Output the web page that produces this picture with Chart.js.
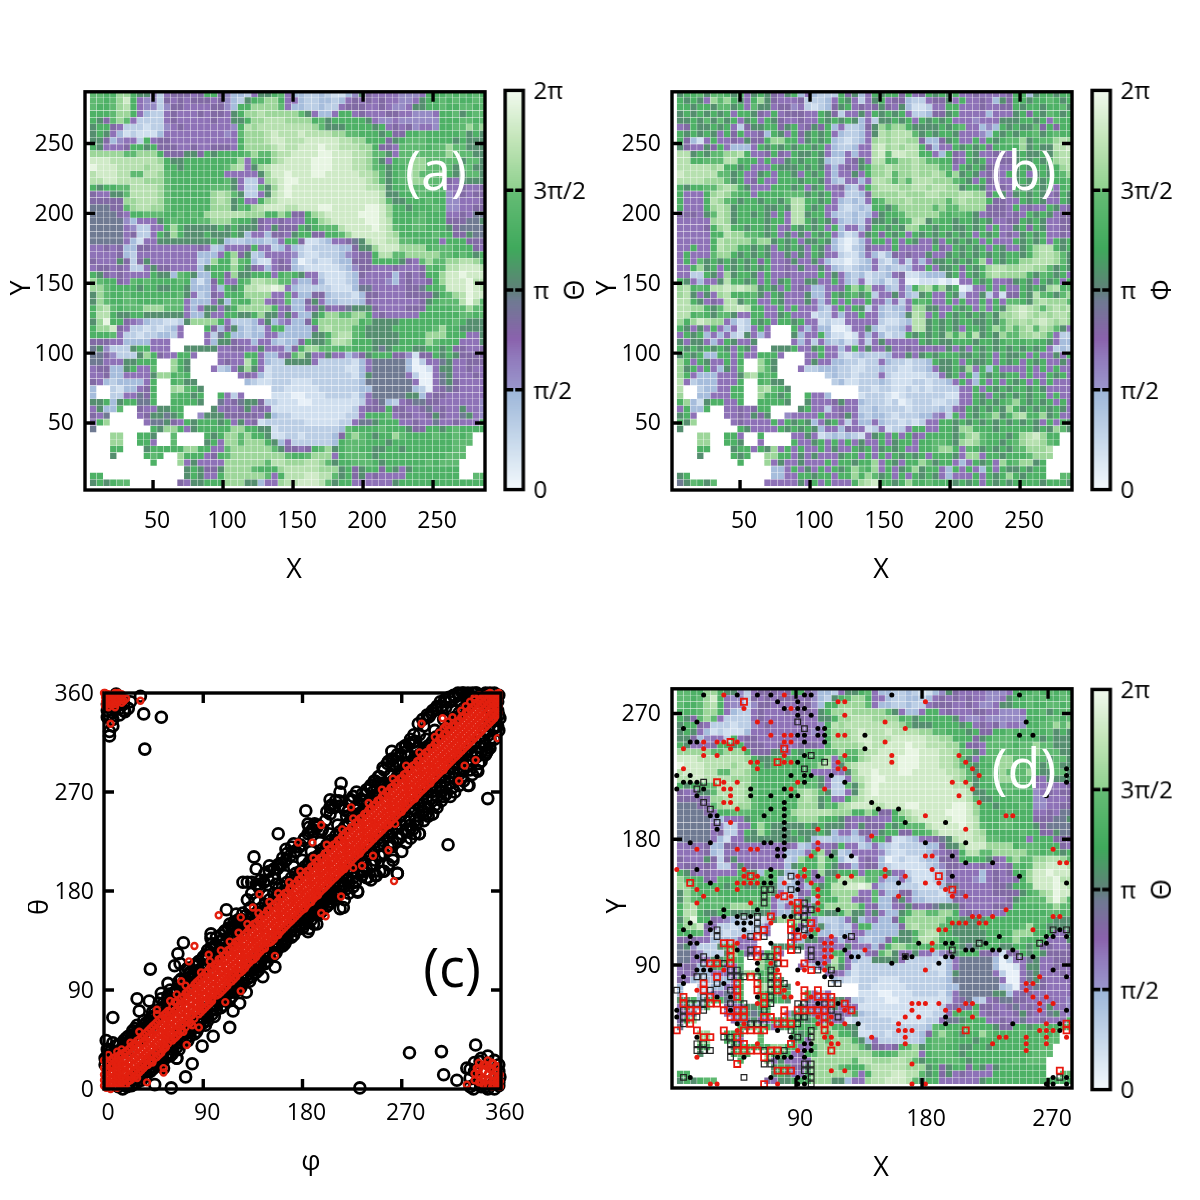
<!DOCTYPE html>
<html><head><meta charset="utf-8">
<style>html,body{margin:0;background:#fff;width:1200px;height:1200px;overflow:hidden}canvas{position:absolute}</style>
<script src="https://cdn.jsdelivr.net/npm/chart.js@4"></script>
</head><body>
<script>
// Phase maps, one character per lattice cell: 0..f is a phase level, "." an empty cell.
const thetaRows = [
"bbaacca884 2566656aa6 4332588ab5 3322321134 8655554445 aaabababa",
"bbabcea544 2656566656 4328abcca5 5322332356 5656554458 aababaabb",
"baabcda544 2466555566 43aaccccb5 3322322566 6556544588 aabaabbab",
"aaabcca532 2565556566 58accdcccc cb85335aa5 6555665544 45aab8abb",
"a86bcb5222 2565555565 588accdddc cccab8aaaa a854454444 44aaabbab",
"8aa6522212 2456555555 54adcddddd dddcb888aa aa8a56564 5 54aabbcbc",
"8a85312111 3555555555 45bcccdedd deddddccbb aaa8a66aab aaaaab8a8",
"88634552a5 6655555555 55acccdeed ddeeeeeddc caaa68abbb aaaa8a888",
"a85556aa8a 6665565566 65accccded deeefeeddd cca6 65bbbb abbcbb888",
"cccccbbccc a666886a8a aaabcbbcdd eeeeffeeed dcbb85bbbb bbbcbbb88",
"eeeddddddd ca88aaaaaa aac5baacde eeefffeeed dcb85abbcc bbbbb8bb8",
"feeeddddcd daa8aaaaaa bcd58cdeee eeefffeeed dcba8aabcc bbbb8bb88",
"deeeddbbdd cbaaaaaaaa 555558ceef eeeffeeeee ddcb8abbcb bbca88bb8",
"ddeeddddcc cbaaaaaaaa b85225cdef feeeeeeeee edcb8abbcc bbb658888",
"a8aabbdddd cbaaaaaabb b8522b8cef eeeeeeeeee eddc8aabbb baa556556",
"65588bdddd cbaaaaaacd cb82258def eeeeeeeeee eeed88aaab aaa456566",
"66666ccddd cbaaaaaacd c8a55acdee eeeeeeeeee eeedb88aaa baa445556",
"77766bcddc cbaaaaaacc c8bacdeeed deeeffeeee effeca a8aa aba445566",
"777765aabb baababacdd dddcccaacb 66acdeeeee fffecaaaab aaa556577",
"7777743555 8abaaabbcc cbaa865565 55aacdeeee effedaaabb aaa666778",
"7777754225 5aca88888a 8a88865866 6a8abbbdee eefedbaabb aaa867777",
"7777756225 a8ca888a88 8a83553665 8aa66aabce eeeedcaaaa abaa66877",
"7777753155 88888888a8 322333235a a611235567 8deeddbbaa aa5aaa666",
"5565633665 5555556523 5556a55235 3212222336 88ceeecccc abbbaaa65",
"5555632555 5555553335 ac68235555 4211222345 66addbbccc ccbbaba8a",
"6555862685 5555552 3ca adb a3115 65 3012112336 66aaaa865b cbbccddcb",
"5665652258 6655553 8aa ac a86535 66 3211111234 6655565556 babddeeed",
"a865655 55a 883ba83 3aa 6c88aaa5ab a855211123 6555535656 aaceefeee",
"cbaa65bab a aaaba313 6a 55abddccbb 4335311123 5555435655 6aceeefdd",
"ccbaaaa8aa 88aa83335 3 a8addeefe5 3222221113 7755555667 aabeeefed",
"8cbaabaaaa aaab85236 5 aaacccc55b 5336632221 3665555666 68abcdfee",
"8cbaabbaaa abbb533358 3baacc565b 3368533222 3655555556 8abbbdfdb",
"acdbabbbcc cbbb535885 8accccca56 3356865678 8865555666 aaaabbcbb",
"addA88aa88 8888533855 aa88ac8858 533 8accbbc ca56555 55a aaaaabbab",
"8cfaa65432 2112 8ccccA 5222358345 336accccc c ab8888aaaa aaaabA888",
"acce652212 1235...a63 6832325aa3 3336cdcccb a8888aaaaa abcaa8888",
"aaab522122 3325...527 a332335533 3338 8acddb a88888aaaa cccaaa558",
"6665533335 55.....538 8655355323 36a88bddca aa8888aaaa cbaaa5558",
"7842228aa5 55..888885 5665585553 6accbbbaba aa878aaa88 aa8a66556",
"7764222 8ca 655aa5...5 555aa53356 bc8 5585534 68aaa66416 6a8a86666",
"7755588aaa ..ca8....5 655da53228 8885222221 3577777302 55785 5666",
"56633 8a55b ..ca8...52 358c851222 2222222211 3577777300 15885 5655",
"5563355558 ccaba..... ..56531222 2222222221 3877777520 05785 5565",
"653233335a ..ab88.... ...3211222 1112222222 3777777750 05786 5555",
"3..21 3356a ..cdba8... .......221 1111222222 3377777732 05676 5555",
"3..22557 6a ..baa8a..a 525....111 0011122221 3577777883 56655 5555",
"88a38aa77a ..aaaa8..7 5678862211 1001111111 2567325677 66555 5554",
"58 33b..655 88aa....85 6568565111 1111111112 5666a66556 75655 8554",
"657....568 878a..4888 6666658322 1111111122 5aaab56655 68655 7854",
"6ac.....57 7865a8aaa8 a585612222 2211111225 778aaa5565 57556 555a",
"7........a 8cca58aaaa accaa88122 2222222 3ba aaabaaa866 aa8ab aaaa",
"...cc..aa8 ..b....a8a ccbcaa8112 2122223 6bc ba8aacbaaa abaabab..",
"...cc..aa5 ..b....8a5 ccbccca835 2222223abb baaa8aaaaa aaaabbb..",
"...aa...8a aaaaccaa55 bccccccb86 656ab c8abb aa88aa8aaa aaaabb...",
"...8....ab a..caaa56a bccccccccb aabccc5abb ba8aaaaaaa aaabbb...",
".........a ...c585555 ccccccbddc ccddcb8aab bba8aaaaaa babbb....",
".......... ....8a8668 ccccbaaacd ddddccc8a6 8aa6a858aa aaaaa....",
"aa........ ....8a855a ccccccb5ad ddeeddb8a6 856555 5aaa aaaaa..bb",
"8a8abb.... ...6588aaa ccc8835 5cd deeedb8aa5 55555 8aaaa aaaaaaaaa"
];
const phiRows = [
"8aab8bba8a 58a8658a35 3222a6835a 8aa6a56a8a 8a55655556 aa38aa8aa",
"a8a85cbca8 5ac8655562 2235a85258 a566322566 85a5565386 aa8aaba8a",
"aa8aa8bb8a 5b88566452 12368a5656 8658311255 aa55565566 a8aa8aab8",
"8a8a8a8a5a a865a56665 5a8625585a 8a8a522366 8a55553555 8a6a8ba8a",
"88a8b8b8a5 8a5a865565 5a8a8a8352 88a8a5a8a8 a555455588 8aa8a5baa",
"56a88a8a52 688aa68a56 86a3522368 cbcca8888a 8ab55343a8 a88b6a6aa",
"a8a8a85a6a 5563a85a68 a8a5322358 dcdddb8a8a a855543a8a 8aab8abaa",
"a6315a5565 866accaa58 a8a321235c dcddcc6336 8a55a5a8ab bc8abbcdc",
"865586a533 35a8a8a8aa 8a5322355d ecdcdda635 5a8a8a6aaa ac8a88dde",
"dd8a8bbccd a556a65a88 a85335355d ebeeddaa53 a65a855665 8a88a8cdd",
"ddaabbbdda aa5a558a8a a83225685d dabccdcbba a65a8a5566 8a8a8acdd",
"dddddcdaa8 a555a888a8 a8535658ac cdcccdcccb b5a8a86655 8a8aa8acd",
"edddddbb8a 558a5aa85a 8a535585ac cdbccdccdc ac8a85665a 8a58a8abc",
"ddddcccb8a 56a55aaa8a a85325535d dcbcbdddcc cba85a6655 8a8b8aaab",
"a8aabbcdca 8555aaa8a5 8a556325ac dddccddcdd cc8aa85565 a88a8a5ab",
"a555acdcba a5aaaabbb8 a8a552236c cccdcccddc ccddcc6a85 8a8a856a8",
"a555adcba8 aa8aa8bdda a8a532325a bcccdccccc bcdccca665 5a8a855a8",
"a555acdc8a aaa88a8dda 8a5521232a a8bcccccbc bbcccc6665 a5655a856",
"66658bdc8a a8a85a5dd8 aa53223235 8aabcccccb abba856665 65a8a8566",
"55555cdc8a aaa8aa5dda 8a85323258 8a8abdd8ba a8aa8a8556 6a8a85566",
"55556acdaa 8aa8a56a8a 8a5a35536a a8a8ccaa8a a88a8a5a55 8a6a85566",
"55555aadcc bba8a58585 a8a531258a 6a8a5a8a8a 8a8a5a8a56 58a8a5565",
"55555adccc cbcc8a8a58 8a8310135a a5a5a85585 a8a8a5a555 a8a8a5a8a",
"55a55adcca a8a85a8a85 a853102365 55a55555a6 5a8a8a5a85 58acdda8a",
"5a555bcca8 a8a8558585 a855211353 1365655855 8a8a8a8a8a a8acddcb8",
"5a5b8a8a8a 8a6a556855 8531101235 2135253588 a8a8ac5a8a accdddcb8",
"55ac8a5a8a 8a8a556585 5853212335 2322355a58 8a6a8acddc cddccb8a8",
"5522a85c8a a85a556555 5a58532312 2356112333 8a5a8acdcc cca8ba8a5",
"a853558daa 8a5a58a558 855a532512 3125001110 1055a8a556 8a85a8a5a",
"cdabaddede dc8a85a565 33556acac5 53253acdac 8a0155a5a5 5a8a8cdab",
"cd8585cdaa ab85a85558 335a8ab8a2 5585328a55 a825582516 6a8dba8bc",
"dda8565dd8 ba55a85558 535a5a55a5 53525aba55 a5a55a5a5b ba8cdcccb",
"ddcca8bdde daa55a5a55 5325a5a825 32335cc885 5a8a5b5a8c dedcbcdcd",
"ddaba8bb85 5aa558a555 1225355a55 32238dc5a5 a8a8a8b8cc dedcdcddc",
"cacedcc531 2a8a5aa8a5 5121155555 21123dd8a8 a8aa88a8bc cdcdedcdc",
"a8585a5351 25a5...a53 5330015583 12235dd8a8 a85aa8acbc bcdbdcb85",
"5a8a353521 8535...835 5a31101535 3122a8a8a8 cacad8a8cb bccdcb522",
"8588535a85 58.....535 2532312525 855555a8a8 8aaa8aa8ab aabaa8533",
"a8a8a8a85a 85..888a55 8a5535a585 5855656565 8585a8a8a8 a8a8a5232",
"8a8a33aa5a 55aaa5...5 5a55212322 2355858a8a aa88a8a5a8 8a5a5585a",
"ca5a855a5a ..ca8....5 8553322122 53221223a8 8a5a88a5a8 a5a8a5585",
"c8a5a5385b ..cb8...52 2333221122 3221122358 8a8c5a3a55 55a5a5a55",
"ca53335558 cdaba..... ..23221222 5211111225 8a5a3a8a8a a5a55a8a5",
"d52333555a ..ab88.... ...2311222 3211122122 35a53a5a5a 8a5a5a555",
"d..23355aa ..cdba8... .......221 2211212122 2255a5a8a8 aa8a85555",
"c..33555aa ..caa8a..a 553....122 2101222222 1155a85a8a 8a8aa5a55",
"ac318aa55a ..aaaa8..8 5556855322 2120122211 2255a8a8ab ca8a8a5a5",
"5a33a..556 56aa....8a 5525655223 2222122223 256a8a8a8c a8a8a8a85",
"8a5....556 5868..4555 5a55685323 3212223345 2a5a8abc8a cdaac8a55",
"a8c.....56 5555a5a8a8 358a525335 322121255a a8a8a8a8a8 a8a85a5a8",
"8........a 85555a8a8a 8355365512 51225aa55a a8ccaaa8aa aaa8a8cb8",
"...cc..aa5 ..a....558 5123232158 a5a5a65aaa a8bcdbaaa8 acdecaa..",
"...cc..aa8 ..5....a55 8a5a5a5855 a58aa5aabb a8cdcbaa8a bcddcba..",
"...aa...8a a5a8c5a5a5 5a5855a8a5 8a8a55aabc ca5ba8a8a8 bbcccd...",
"...8....a8 a..ccaa585 85558aa5a5 a5a8a8a5aa a85cc5aa8a aabccc...",
".........a ...c585585 55a5aa8aac 5a85aacb8a a535a8a5ca bcc8a....",
".......... ....335a58 5a5a8acbac 5a58ac8aa5 3a5a53a5a8 8a8aa....",
"8a........ ....3355aa 8aa5aacacb 8a5a5a8a85 3555a5a8ac a8aaa..bb",
"78ba8b.... ...5555585 a5a555acde aa8acaabaa a8a8a5a8a8 aaaa8aaa8"
];

// Panel (c): rows are [phi, theta, theta, ...], strays are phi,theta pairs.
const ringsBlackRows = [
[3,30,36],[8,28,42],[14,35,40],[18,38,44],[22,43,48],[26,4,48,53],[30,6,52,58],[34,8,55],[38,12,60],[42,16,64],[46,20,24,70],[50,22,72,78],[54,26,78],[58,30,82,85],[62,32,36,86],[66,28,38,90],[70,42,46,94,100],[74,46,50,96,108],[78,48,52,102,106],[82,50,56,106,112],[86,56,60,108,116],[90,60,64,113,120],[94,62,66,118,126],[98,68,72,122,132],[102,72,76,124,138],[106,74,80,128,140],[110,80,86,132,144],[114,82,88,136,150],[118,88,92,140,152],[122,90,96,144,154],[126,96,100,148,160],[130,100,104,152,172,188],[134,102,108,156,178],[138,106,112,160,186],[142,112,116,164,190],[146,114,120,168,196],[150,120,124,172,198],[154,122,128,178,200],[158,128,132,182,204],[162,130,136,184,210],[166,136,140,188,214],[170,138,144,192,220],[174,144,148,196,216],[178,148,150,198,222],[182,150,154,202,228],[186,146,156,206,238],[190,150,160,210,234],[194,158,164,212,240],[198,162,168,218,236],[202,166,172,222,252],[206,170,174,226,258],[210,172,178,230,262],[214,164,180,234,270],[218,172,184,238,254],[222,178,188,242,262],[226,184,192,248,266],[230,180,196,250,258],[234,194,198,252,268],[238,192,200,258,272],[242,190,204,260,276],[246,194,208,264,280],[250,198,212,268,284],[254,198,214,272,290],[258,204,220,276,298],[262,208,224,280,300],[266,196,228,284,304],[270,216,232,288,310],[274,224,236,292,312],[278,228,240,296,318],[282,232,244,300,316],[286,232,248,304,322],[290,244,252,308,330],[294,248,256,312,338],[298,250,262,316,344],[302,256,266,320,348],[306,262,270,324,348],[310,268,274,328,352],[314,266,278,332,352],[318,270,282,338,356],[322,276,286,342,358],[326,280,290,346,360],[330,276,294,350,360],[334,286,298,352,360],[338,290,302,356,360],[342,298,306,358],[346,304,312,360],[350,310,318,360],[354,318,328,360],[358,326,340,358],
[1,22,28],[5,24,31],[9,26,33],[13,2,30,34],[17,0,33,37],[21,2,4,36,41],[25,3,8,41,46],[29,9,12,44,50],[33,12,15,46,54],[37,15,18,52,58],[41,19,22,56,60],[45,24,27,59,66],[49,27,31,64,69],[53,30,33,68,74],[57,32,37,70,78],[61,39,42,76,80],[65,41,45,80,88],[69,45,50,84,92],[73,50,53,88,98],[77,53,57,93,104],[81,58,61,97,100],[85,60,64,101,112],[89,64,69,104,118],[93,68,73,109,120],[97,72,77,114,127],[101,76,80,118,130],[105,80,84,122,134],[109,84,88,126,143],[113,87,92,130,146],[117,91,97,134,148],[121,96,101,138,150],[125,100,104,142,154],[129,104,109,148,158],[133,108,113,150,165],[137,113,117,154,172],[141,117,121,158,182],[145,120,125,162,188],[149,124,129,166,190],[153,128,132,170,192],[157,132,137,174,200],[161,136,141,178,204],[165,140,144,184,208],[169,144,149,186,212],[173,148,152,190,216],[177,150,156,194,220],[181,154,160,198,226],[185,158,164,204,232],[189,162,168,206,236],[193,166,172,210,238],[197,170,176,214,234],[201,174,180,218,244],[205,178,184,222,250],[209,180,188,226,256],[213,184,192,230,262],[217,186,196,234,256],[221,190,200,240,252],[225,198,204,244,262],[229,202,208,246,270],[233,206,212,250,262],[237,210,216,254,268],[241,214,220,258,274],[245,218,224,262,280],[249,222,228,266,284],[253,226,232,272,292],[257,230,236,274,296],[261,234,240,278,300],[265,238,244,282,298],[269,240,248,286,304],[273,244,252,290,312],[277,246,256,294,314],[281,254,260,298,322],[285,258,264,302,332],[289,262,268,306,336],[293,266,272,310,340],[297,270,276,314,342],[301,274,280,320,346],[305,276,284,322,352],[309,280,288,326,354],[313,284,292,330,356],[317,288,296,334,358],[321,292,300,338,360],[325,296,304,342,360],[329,298,308,346,358],[333,304,312,350,356],[337,306,316,352,360],[341,310,320,354,358],[345,314,326,358,352],[349,322,330,346,356],[353,328,336,350],[357,330,344,352],
[6,34],[12,40],[20,46],[28,55],[36,62],[44,18,70],[52,24,82],[60,30,90],[68,36,98],[76,44,110],[84,52,114],[92,58,122],[100,66,130],[108,76,136],[116,84,146],[124,92,152],[132,98,164],[140,108,170],[148,116,176],[156,124,186],[164,134,194],[172,140,202],[180,146,208],[188,154,216],[196,160,224],[204,168,232],[212,176,240],[220,182,248],[228,188,256],[236,198,262],[244,204,270],[252,212,278],[260,220,286],[268,228,294],[276,234,302],[284,242,310],[292,250,318],[300,258,326],[308,266,336],[316,274,344],[324,282,352],[332,290,358],[340,296],[348,308],
[3,338,344,350],[8,336,342,348],[14,340,346,352],[18,344,350],[24,352],[332,2,10,18],[336,4,16,24],[342,28,2],[348,30,0],[354,26,0],[358,22,16,6],[346,16]
];
const ringsBlackStray = [36,341,52,338,37,309,5,321,5,325,8,330,4,340,11,359,33,357,19,343,22,346,7,355,277,33,306,34,337,40,308,13,320,8,329,19,341,25,232,1,61,1,46,4,74,11,335,0,359,11,353,5,358,3,346,2,8,65,2,44,30,82,41,80,32,71,42,109,72,133,67,123,69,114,64,112,58,96,52,87,111,163,120,159,97,141,97,137,158,232,136,211,138,200,126,188,134,188,141,186,150,203,160,205,165,218,172,223,183,253,185,241,191,241,205,263,205,256,215,278,224,263,213,257,261,307,280,315,273,306,302,345,295,339,310,347,327,357,331,355,262,294,249,278,114,56,99,48,89,39,80,23,66,28,54,19,123,78,117,71,129,88,144,102,155,111,164,132,185,143,193,150,217,165,230,179,220,192,247,194,266,196,262,211,253,198,239,192,286,232,280,236,298,250,289,253,310,268,312,222,348,264,331,276,339,289,347,306,350,316,359,337];
const ringsRedRows = [
[2,1,6,11,17,23],[6,0,4,9,14,20,26],[10,2,7,12,18,24,29],[14,3,8,13,19,25,31],[18,3,9,14,20,26,33],[22,7,12,18,24,30,36],[26,10,15,21,27,33,40],[30,13,18,24,30,37,44],[34,17,22,28,34,41,47],[38,21,27,32,38,44,51],[42,25,30,36,42,48,55],[46,28,34,40,46,53,59],[50,31,37,44,50,56,63],[54,36,42,48,54,60,67],[58,41,47,52,58,65,71],[62,44,50,56,62,68,75],[66,48,54,60,66,73,79],[70,53,58,64,70,76,83],[74,56,62,68,75,81,87],[78,60,66,72,79,85,91],[82,64,70,76,82,88,95],[86,68,74,80,86,93,99],[90,73,79,84,91,97,103],[94,76,82,88,94,100,107],[98,80,86,92,98,105,110],[102,85,90,96,103,108,114],[106,88,94,100,106,112,119],[110,92,98,104,111,117,122],[114,97,103,108,114,120,127],[118,100,106,112,118,125,131],[122,105,110,116,122,128,135],[126,108,114,120,127,133,139],[130,113,119,124,130,136,143],[134,117,123,128,134,141,147],[138,120,126,132,139,145,151],[142,125,131,136,142,148,155],[146,129,135,140,147,153,159],[150,133,139,145,151,157,163],[154,136,142,148,155,161,167],[158,141,147,152,158,164,171],[162,145,151,157,163,169,175],[166,149,155,160,167,173,179],[170,153,159,164,170,176,183],[174,157,162,168,175,181,187],[178,161,167,172,178,185,191],[182,165,171,176,183,189,195],[186,169,175,180,186,192,199],[190,173,178,184,191,197,203],[194,177,183,188,194,200,207],[198,181,187,192,199,205,211],[202,185,191,196,202,208,215],[206,189,195,200,207,213,219],[210,193,199,204,210,217,223],[214,197,202,208,215,221,227],[218,201,207,212,218,224,231],[222,205,211,217,223,229,235],[226,209,215,220,226,233,239],[230,213,218,224,231,237,243],[234,217,223,228,234,240,247],[238,221,227,232,239,245,251],[242,225,231,236,242,249,255],[246,229,235,240,247,253,259],[250,233,239,245,251,257,263],[254,237,243,248,255,261,267],[258,241,247,252,258,264,271],[262,245,251,257,263,269,275],[266,249,255,260,267,273,279],[270,253,258,264,271,277,283],[274,257,263,268,274,280,287],[278,261,267,273,279,285,291],[282,265,270,276,283,289,295],[286,269,275,280,286,292,299],[290,273,279,284,291,297,303],[294,277,283,288,294,301,307],[298,281,287,292,299,305,311],[302,285,291,297,303,309,315],[306,289,295,300,307,313,319],[310,293,299,304,311,317,323],[314,297,303,308,315,321,327],[318,301,306,312,319,325,331],[322,305,311,316,323,329,335],[326,309,315,321,327,333,339],[330,313,319,325,331,337,343],[334,317,323,329,335,341,347],[338,321,327,333,339,345,351],[342,325,331,337,343,349,355],[346,329,335,341,347,353,358],[350,333,339,345,351,356,360],[354,337,343,349,354,358],[358,342,348,353,357,360],
[0,3,8,13,19,26],[4,2,7,12,18,24,31],[8,5,10,15,21,28],[12,1,6,11,16,22,28,34],[16,6,11,17,23,30,36],[20,4,9,15,21,27,34],[24,8,13,19,25,31,38,42],[28,11,16,22,28,35,41],[32,15,20,26,32,38,45,52],[36,19,24,30,36,42,49],[40,22,28,34,40,47,53],[44,26,31,37,44,50,57],[48,29,35,42,48,54,61,68],[52,33,39,45,51,58,64],[56,38,44,50,56,62,69],[60,45,51,57,63,70],[64,47,53,59,65,71,79],[68,50,56,62,69,76],[72,52,59,65,71,78,84],[76,63,69,75,82,89],[80,58,67,73,79,85,92],[84,71,77,83,90,97],[88,70,76,82,89,95,101],[92,74,79,85,92,98,106],[96,78,84,90,96,102,110],[100,87,93,99,106,112],[104,86,92,98,104,111,118],[108,90,96,102,108,115,121],[112,99,105,112,118,126],[116,98,104,110,116,122,129],[120,102,108,114,120,127,134],[124,110,116,123,129,136],[128,110,117,122,128,134,141],[132,115,121,126,132,139,146],[136,118,124,130,137,143,150],[140,123,129,134,140,146,153],[144,127,133,138,145,151,158],[148,135,141,149,155,162],[152,134,140,146,153,159,166],[156,139,145,150,156,162,169],[160,143,149,155,161,167,174],[164,147,153,158,165,171,178],[168,151,157,162,168,174,182],[172,155,160,166,173,179,186],[176,159,165,170,176,183,190],[180,163,169,174,181,187,194],[184,167,173,178,184,190,198],[188,170,176,182,189,195,202],[192,175,181,186,192,198,206],[196,179,185,190,197,203,210],[200,183,189,194,200,206,214],[204,187,193,198,205,211,218],[208,191,197,202,208,215,222],[212,195,200,206,213,219,226],[216,199,205,210,216,222,230],[220,203,209,215,221,227,234],[224,207,213,218,224,231,238],[228,211,216,222,229,235,242],[232,215,221,226,232,238,246],[236,219,225,230,237,243,250],[240,223,229,234,240,247,254],[244,227,233,238,245,251,258],[248,231,237,243,249,255,262],[252,235,241,246,253,259,266],[256,239,245,250,256,262,270],[260,243,249,255,261,267,274],[264,247,253,258,265,271,278],[268,251,256,262,269,275,282],[272,255,261,266,272,278,286],[276,259,265,271,277,283,290],[280,263,268,274,281,287,294],[284,267,273,278,284,290,298],[288,271,277,282,289,295,302],[292,275,281,286,292,299,306],[296,279,285,290,297,303,310],[300,283,289,295,301,307,314],[304,287,293,298,305,311,318,324],[308,291,297,302,309,315,322,328],[312,295,301,306,313,319,326,334],[316,299,304,310,317,323,330,338],[320,303,309,314,321,327,334],[324,307,313,319,325,331,338,344],[328,311,317,323,329,335,342,348],[332,315,321,327,333,339,345,352],[336,319,325,331,337,343,349,356],[340,323,329,335,341,347,353,358],[344,327,333,339,345,351,357],[348,331,337,343,349,354,359],[352,335,341,347,352,357],[356,340,346,351,355,359],
[1,348,352,356,360],[4,347,351,355,359],[7,349,353,357],[10,350,354,358,360],[13,352,356,360],[16,351,355,359],[20,355],[336,8,14],[340,6,12,18,24],[344,4,10,16,22],[348,3,8,14,20,26],[352,2,7,12,18,24],[356,4,9,15,21],[359,2,7,13]
];
const ringsRedStray = [104,158,82,130,77,116,95,122,70,98,48,72,39,6,54,19,54,15,75,40,86,56,110,79,124,89,155,121,141,177,135,165,124,156,201,157,197,160,215,175,215,198,176,224,189,224,197,240,224,256,263,189,258,217,244,212,234,203,226,201,264,241,288,332,307,337,322,280,327,294,337,299,357,319,336,354,33,353,6,332,10,347,329,4,338,19,353,23,344,8,353,4,0,360,3,356,6,352,9,358,12,354,15,357,18,353,2,350,340,14,346,22,350,18,354,12,357,8,349,9,356,20,342,6,60,80,66,86,74,94,88,106,96,116,106,126,114,134,122,142,130,150,140,160,150,170,158,178,168,188,178,198,190,210,202,222,216,236,226,246,240,260,252,272,262,282,274,294,286,306,300,320,310,330,30,10,44,24,56,38,64,46,78,60,90,72,98,82,112,94,124,106,134,118,146,128,158,140,170,154,182,164,194,176,206,190,218,200,232,214,244,228,258,240,270,252,282,264,296,278,308,290];

// Panel (d): rows are [lattice row from the top, lattice column, lattice column, ...].
const dotsBlack = [
[0,4,9,12,14,19,20,32,51],[1,15,18],[2,16,18,19],[3,18,20],[4,3,52],[5,1,21,22],[6,18,19,21,22,28,51,53],[7,2,3,19,22],[8,28],[9,19],[10,18],[11,58],[12,0,2,17,19,20,23,58],[13,1,2,3,19,25,58],[14,0,4,11,16],[15,3,11,14,17,18,55],[16,16,29],[17,14,16,30,33],[18,5,6,13,16],[19,16,34,40],[20,6,16],[21,16],[22,2,5,13,14,16,37,43],[23,15,16],[24,15,16,23,26,41],[25,43,47],[26,3,14],[27,14,21,41,51],[28,5,13,14,18,25,33,58],[29,18],[32,7,12,24],[33,7,9,11,16,17],[34,2,5,9,10,11],[35,1,5,10,18,57],[36,2,20,25,48,55,56,58],[37,2,3,14,36,40,41,46,55],[38,9,25,43,44,47,48,50],[39,3,6,26,27,34,35,40,41,49,53],[40,12,21,32,39],[41,3,4,5,12,18,56],[42,1,22,23,58],[43,1,7],[45,6,8,12],[46,21,24],[47,0,8,58],[48,0,40],[49,9,27,40,50,57],[50,15,57],[51,3,17],[52,19,20],[53,19,20],[54,10,15,16,17,19],[57,2,14,18,19,56,58],[58,18,19,55,56,58]
];
const dotsRed = [
[0,7,16],[1,24,25,37],[2,10,17],[3,25],[4,12,14,31],[5,34],[6,14,16,17,24,25],[7,4,6,7,9,16,17,31],[8,1,4,8,10],[9,4,6,16,25,32,42],[10,11,12,16,17,24,32,43],[11,1,12,24,25,44],[12,45],[13,7,9,18,41,43],[14,7,8,17,22,44],[15,8,42],[16,7,8,45],[17,9],[18,37,49,50],[19,8],[20,21,43],[21,29],[22,21],[23,3,9,11,12,21,56],[24,20,37,38],[25,57,58],[26,0,10,19,31,38],[27,10,12,18,19,24,26,31,34],[28,9,10,11,12,16,20,37,39],[29,3,6,9,21,40],[30,4,15,17,21,33,41,43],[31,3,11,17,21],[32,21,49],[33,44,45,47,56,57],[34,14,41,42,43,45,46],[35,20,21,39,40,53],[36,10,19,23],[37,9,22,23,38],[38,22,23,28,38],[39,22,23],[40,14,22],[41,7,15,19,22,37],[42,54],[43,18,52,53],[44,3,16,52],[45,16,17,20,53,55],[46,12,35,36,37,39,43,44,54,56],[47,25,35,40,42,54],[48,21,23,34,36,44],[49,10,21,23,25,33,55],[50,9,33,34,35,54,55,56],[51,22,23,29,34,48,49,52,55,58],[52,12,23,24,34,47,52,55],[53,18,52],[54,3],[55,35],[56,23,25],[58,5,6,15,35,37]
];
const boxesBlack = [
[4,18],[5,19],[9,20],[10,22],[11,19],[13,4],[14,3],[16,4],[17,5],[19,6],[27,17],[29,13,14,17],[30,13],[31,13,19],[32,19,20],[33,10,12,18,19],[34,12,19],[35,6,12,19],[36,6,11,13,17,26],[37,45,54],[38,11,18,20,41],[39,4,11,13,14,20,51],[40,4,7,15],[41,8,9,14,21,23],[42,3,4,8,9,10,12,14],[43,6,14,16,23,24],[44,0,5,8,14],[45,4,14],[46,2,3,4,8,10,14,18,19,22],[47,1,4,13,23],[48,1,3,18,19,24],[49,1,11,12,13,18],[50,17,20],[51,7,8,18,20],[52,3,4,8,9],[53,3,4,5,8,13,16],[54,8,14],[55,13,14,19,20],[56,19,20],[57,1,10,20,57],[58,20],[35,56,58],[39,34]
];
const boxesRed = [
[1,10],[7,8],[8,16],[10,15],[13,6],[27,11,39],[28,2],[29,41],[30,16],[31,18],[32,18],[33,14],[34,17,20],[35,13,17],[36,12,18],[37,7,8,17],[38,8,12,15,17],[39,8,12,15],[40,5,6,8,16,19],[41,20],[42,6,11,15],[43,4,9,12,15],[44,4,9,12,15,19,21],[45,1,5,9,13,19,21,22,23],[46,1,5,6,13,23,25],[47,2,3,7,9,10,16,18,19,20,21,22,26],[48,2,8,9,10,13,14,16,22],[49,2,15,16,17,22],[50,0,3,7,10,11,12,13,22,43,58],[51,4,5,9],[52,10,17],[53,9,10,11,12,14,15,23],[54,13],[55,9],[56,15,16,17,57],[58,13],[49,58]
];

const uTicks = [50,100,150,200,250];
const angleTicks = [0,90,180,270,360];
const siteTicks = [90,180,270];
const TAU = Math.PI*2;
const barTicks = [0,TAU/4,TAU/2,TAU*3/4,TAU];
const barLabels = ['0','π/2','π','3π/2','2π'];

const FONT = '"Open Sans"';
const colourStops = [[0,'#f2f8fc'],[.125,'#c5d7ea'],[.2495,'#9cb5d8'],[.25,'#9a96cc'],[.33,'#9079bb'],[.375,'#8a62ad'],[.47,'#6f7a92'],[.5,'#5f8178'],[.6,'#3fa95c'],[.7495,'#67bd76'],[.75,'#90d18f'],[.875,'#c3e5b9'],[1,'#f3faf0']];
function hex(c){return [1,3,5].map(i=>parseInt(c.substr(i,2),16));}
function colourAt(f){
  for(let i=1;i<colourStops.length;i++){
    const [a,ca]=colourStops[i-1],[b,cb]=colourStops[i];
    if(f<=b){const t=(f-a)/(b-a),p=hex(ca),q=hex(cb);
      return `rgb(${p.map((v,k)=>Math.round(v+(q[k]-v)*t)).join(',')})`;}
  }
  return colourStops[colourStops.length-1][1];
}
const CELL = 4.8;
function cellsFrom(rows){
  const pts=[],cols=[];
  rows.forEach((row,r)=>{
    row.replace(/\s/g,'').split('').forEach((ch,c)=>{
      if(ch==='.'||c>58)return;
      pts.push({x:CELL*(c+1)+CELL/2,y:CELL*(59-r)+CELL/2});
      cols.push(colourAt((parseInt(ch,16)+.5)/16));
    });
  });
  return {pts,cols};
}
const rowPoints = rows => rows.flatMap(([p,...ts])=>ts.map(t=>({x:p,y:t})));
const pairPoints = list => list.flatMap((v,i)=>i%2?[]:[{x:v,y:list[i+1]}]);
const sitePoints = rows => rows.flatMap(([j,...is])=>is.map(i=>({x:CELL*(i+1),y:CELL*(59-j)})));

const framePlugin = {
  id:'frame',
  afterDatasetsDraw(chart,_,o){
    const {ctx,chartArea:a,scales:{x,y}}=chart;
    ctx.save();ctx.strokeStyle='#000';ctx.lineWidth=o.lineWidth;ctx.beginPath();
    const L=o.tickLength;
    y.ticks.forEach(t=>{const p=y.getPixelForValue(t.value);
      if(p<a.top+2||p>a.bottom-2)return;
      ctx.moveTo(a.left,p);ctx.lineTo(a.left+L,p);ctx.moveTo(a.right,p);ctx.lineTo(a.right-L,p);});
    if(o.xTicks)x.ticks.forEach(t=>{const p=x.getPixelForValue(t.value);
      if(p<a.left+2||p>a.right-2)return;
      ctx.moveTo(p,a.bottom);ctx.lineTo(p,a.bottom-L);ctx.moveTo(p,a.top);ctx.lineTo(p,a.top+L);});
    ctx.stroke();
    ctx.lineWidth=o.frameWidth;ctx.strokeRect(a.left,a.top,a.right-a.left,a.bottom-a.top);
    ctx.textAlign='center';ctx.textBaseline='middle';
    if(o.tag){ctx.font=`${o.tag.size}px ${FONT}`;ctx.fillStyle=o.tag.color;
      ctx.fillText(o.tag.text,a.left+o.tag.dx,a.top+o.tag.dy);}
    // Axis names sit at fixed page positions, slightly off the axis centre.
    const ox=chart.canvas.offsetLeft,oy=chart.canvas.offsetTop;
    (o.names||[]).forEach(n=>{
      ctx.save();ctx.translate(n.x-ox,n.y-oy);if(n.turn)ctx.rotate(-Math.PI/2);
      ctx.font=`${n.size||27}px ${FONT}`;ctx.fillStyle='#000';ctx.fillText(n.text,0,0);ctx.restore();
    });
    ctx.restore();
  }
};

function place(l,t,w,h){
  const c=document.createElement('canvas');
  c.width=w;c.height=h;c.style.left=l+'px';c.style.top=t+'px';c.style.width=w+'px';c.style.height=h+'px';
  document.body.appendChild(c);return c;
}
function axis(o){
  return {
    type:'linear',min:o.min,max:o.max,position:o.pos,
    grid:{display:false,drawTicks:false},border:{display:false},
    ticks:{color:'#000',font:{family:FONT,size:o.font||23},padding:o.pad,labelOffset:o.off||0,autoSkip:false,maxRotation:0,minRotation:0,
      callback:o.labels?(v=>o.labels[o.values.indexOf(v)]):(v=>String(v))},
    afterBuildTicks:s=>{s.ticks=o.values.map(v=>({value:v}));},
    afterFit:s=>{if(o.pos==='bottom')s.height=o.size;else s.width=o.size;}
  };
}
// One framed plot; the frame rectangle is given in page pixels.
function panel(f,datasets,x,y,tag,names){
  const top=24,right=34;
  const canvas=place(f.L-y.size,f.T-top,f.R-f.L+y.size+right,f.B-f.T+top+x.size);
  new Chart(canvas,{type:'scatter',data:{datasets},plugins:[framePlugin],
    options:{responsive:false,animation:false,events:[],parsing:false,
      layout:{padding:{top,right,left:0,bottom:0}},
      plugins:{legend:{display:false},tooltip:{enabled:false},
        frame:{lineWidth:3.4,frameWidth:3.4,tickLength:10,xTicks:true,tag,names}},
      scales:{x:axis({...x,pos:'bottom'}),y:axis({...y,pos:'left'})}}});
}
// Vertical phase colour bar, built from thin floating bars on the phase scale.
function colourBar(f,name,size){
  const steps=200,top=24,bottom=24,left=12;
  const datasets=[];
  for(let i=0;i<steps;i++)datasets.push({data:[[TAU*i/steps,TAU*(i+1.4)/steps]],backgroundColor:colourAt((i+.5)/steps),barPercentage:1,categoryPercentage:1,grouped:false,borderWidth:0});
  const canvas=place(f.L-left,f.T-top,f.R-f.L+left+size,f.B-f.T+top+bottom);
  new Chart(canvas,{type:'bar',data:{labels:[''],datasets},plugins:[framePlugin],
    options:{responsive:false,animation:false,events:[],
      layout:{padding:{top,bottom,left,right:0}},
      plugins:{legend:{display:false},tooltip:{enabled:false},
        frame:{lineWidth:3.4,frameWidth:3.4,tickLength:8,xTicks:false,names:[name]}},
      scales:{x:{display:false,grid:{display:false}},
        y:axis({min:0,max:TAU,pos:'right',values:barTicks,labels:barLabels,size,pad:10,off:2,font:24})}}});
}
function heat(rows){
  const {pts,cols}=cellsFrom(rows);
  return {data:pts,pointStyle:'rect',pointRadius:4.48,pointBorderWidth:0,pointBackgroundColor:cols,order:10};
}
const uAxis=()=>({min:1.4,max:287.1,values:uTicks,size:94,pad:18,off:4});
const vAxis=size=>({min:2,max:287,values:uTicks,size,pad:11,off:1});

panel({L:85,T:91,R:485,B:490},[heat(thetaRows)],uAxis(),vAxis(77),{text:'(a)',size:54,color:'#fff',dx:351,dy:83},
  [{text:'X',x:294,y:570},{text:'Y',x:22,y:288,turn:true}]);
colourBar({L:505,T:90,R:523.5,B:490},{text:'Θ',x:575,y:290,turn:true},72);

panel({L:672,T:91,R:1072,B:490},[heat(phiRows)],uAxis(),vAxis(78),{text:'(b)',size:54,color:'#fff',dx:352,dy:83},
  [{text:'X',x:881,y:570},{text:'Y',x:608,y:288,turn:true}]);
colourBar({L:1092,T:90,R:1110.5,B:490},{text:'Φ',x:1162,y:290,turn:true},72);

panel({L:104,T:692.7,R:501,B:1089},[
  {data:rowPoints(ringsBlackRows).concat(pairPoints(ringsBlackStray)),pointStyle:'circle',pointRadius:5.4,pointBorderWidth:2.8,pointBackgroundColor:'rgba(0,0,0,0)',pointBorderColor:'#000',clip:false,order:5},
  {data:rowPoints(ringsRedRows).concat(pairPoints(ringsRedStray)),pointStyle:'circle',pointRadius:3,pointBorderWidth:2.4,pointBackgroundColor:'rgba(0,0,0,0)',pointBorderColor:'#e2200f',clip:false,order:4}
],{min:0,max:360,values:angleTicks,size:87,pad:11,off:4},{min:0,max:360,values:angleTicks,size:76,pad:10,off:1},{text:'(c)',size:54,color:'#000',dx:348,dy:279},
  [{text:'φ',x:311,y:1162},{text:'θ',x:40,y:907,turn:true}]);

panel({L:672,T:688.3,R:1072,B:1088.3},[
  heat(thetaRows),
  {data:sitePoints(dotsBlack),pointStyle:'circle',pointRadius:2.5,pointBorderWidth:0,pointBackgroundColor:'#000',order:6},
  {data:sitePoints(dotsRed),pointStyle:'circle',pointRadius:2.5,pointBorderWidth:0,pointBackgroundColor:'#e8180f',order:5},
  {data:sitePoints(boxesBlack),pointStyle:'rect',pointRadius:4,pointBorderWidth:1.2,pointBackgroundColor:'rgba(0,0,0,0)',pointBorderColor:'#222',order:4},
  {data:sitePoints(boxesRed),pointStyle:'rect',pointRadius:4.3,pointBorderWidth:1.8,pointBackgroundColor:'rgba(0,0,0,0)',pointBorderColor:'#e8180f',order:3}
],{min:1.4,max:287.1,values:siteTicks,size:94,pad:18,off:4},{min:2,max:287.7,values:siteTicks,size:68,pad:11,off:1},{text:'(d)',size:54,color:'#fff',dx:352,dy:84},
  [{text:'X',x:881,y:1168},{text:'Y',x:618,y:906,turn:true}]);
colourBar({L:1092,T:689,R:1110.5,B:1089.5},{text:'Θ',x:1162,y:889,turn:true},72);
</script>
</body></html>
